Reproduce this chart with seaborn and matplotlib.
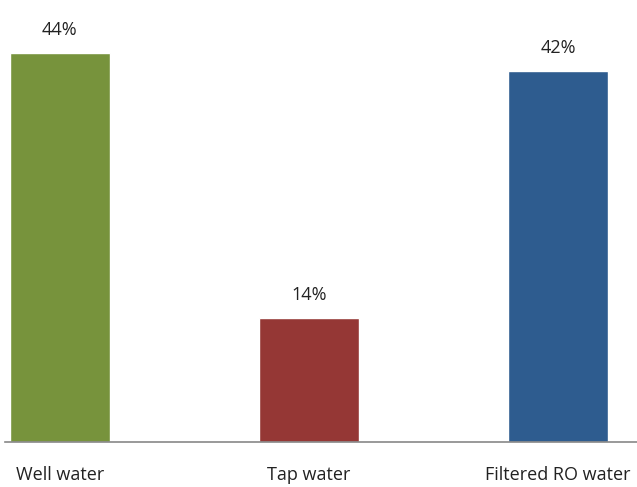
import pandas as pd
import seaborn as sns
import matplotlib.pyplot as plt

# data
sources = ["Well water", "Tap water", "Filtered RO water"]
shares = [44, 14, 42]
bar_colors = ["#77933C", "#953735", "#2E5C8F"]

df = pd.DataFrame({"source": sources, "share": shares})

sns.set_style("white")
plt.rcParams["font.family"] = ["Open Sans", "DejaVu Sans"]

fig = plt.figure(figsize=(6.37, 4.87), dpi=100)
ax = fig.add_axes([5 / 637, 45 / 487, 632 / 637, 442 / 487])

sns.barplot(data=df, x="source", y="share", hue="source",
            palette=bar_colors, width=0.4, legend=False, ax=ax, saturation=1)

for i, v in enumerate(shares):
    ax.text(i, v + 1.6, f"{v}%", ha="center", va="bottom", fontsize=13, color="#222222")

ax.set_xlim(-0.22, 2.317)
ax.set_ylim(0, 50)
ax.set_xlabel("")
ax.set_ylabel("")
ax.set_yticks([])
ax.tick_params(axis="x", length=0, pad=17, labelsize=13, labelcolor="#222222")
for side in ["top", "right", "left"]:
    ax.spines[side].set_visible(False)
ax.spines["bottom"].set_color("#888888")
ax.spines["bottom"].set_linewidth(1.2)

fig.savefig("out.png", dpi=100)
